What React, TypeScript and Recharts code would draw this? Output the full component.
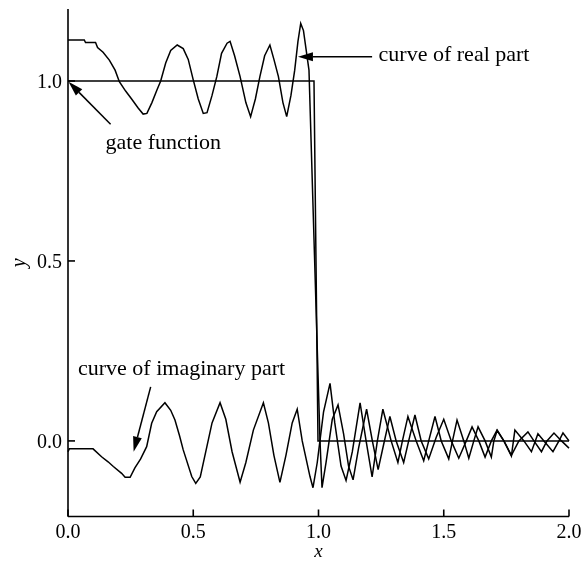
import { LineChart, Line, XAxis, YAxis, ReferenceLine, ReferenceDot } from 'recharts'

// axis ticks
const xTicks = [0, 0.5, 1, 1.5, 2]
const yTicks = [0, 0.5, 1]

// gate function (ideal)
const gateFn: [number, number][] = [
  [0, 1], [0.982, 1], [0.998, 0], [2, 0],
]

// reconstructed real part
const realPart: [number, number][] = [
  [0.0, 1.114], [0.065, 1.114], [0.07, 1.107], [0.11, 1.107], [0.118, 1.093],
  [0.14, 1.08], [0.165, 1.058], [0.188, 1.03], [0.205, 0.998], [0.23, 0.972],
  [0.254, 0.95], [0.28, 0.925], [0.3, 0.908], [0.315, 0.91], [0.335, 0.94],
  [0.355, 0.975], [0.37, 1.0], [0.39, 1.05], [0.41, 1.085], [0.436, 1.1],
  [0.46, 1.09], [0.48, 1.06], [0.5, 1.003], [0.52, 0.95], [0.54, 0.91],
  [0.555, 0.912], [0.575, 0.96], [0.594, 1.012], [0.613, 1.077], [0.635, 1.105],
  [0.647, 1.11], [0.665, 1.07], [0.687, 1.012], [0.71, 0.94], [0.729, 0.901],
  [0.748, 0.95], [0.766, 1.012], [0.785, 1.07], [0.806, 1.1], [0.822, 1.06],
  [0.84, 1.012], [0.858, 0.94], [0.873, 0.901], [0.89, 0.96], [0.905, 1.03],
  [0.918, 1.11], [0.929, 1.16], [0.94, 1.14], [0.962, 1.03], [1.006, 0.0],
  [1.014, -0.13], [1.03, -0.06], [1.055, 0.06], [1.078, 0.1], [1.1, 0.02],
  [1.12, -0.07], [1.138, -0.108], [1.16, -0.02], [1.192, 0.088], [1.215, 0.0],
  [1.238, -0.08], [1.26, -0.01], [1.285, 0.068], [1.31, 0.0], [1.34, -0.06],
  [1.36, 0.0], [1.385, 0.072], [1.41, 0.0], [1.44, -0.05], [1.47, 0.01],
  [1.5, 0.06], [1.53, 0.0], [1.56, -0.048], [1.59, 0.0], [1.613, 0.039],
  [1.64, 0.0], [1.665, -0.045], [1.69, 0.0], [1.713, 0.03], [1.74, 0.0],
  [1.77, -0.04], [1.8, 0.0], [1.836, 0.025], [1.86, 0.0], [1.89, -0.03],
  [1.912, 0.0], [1.94, 0.022], [1.97, 0.0], [2.0, -0.02],
]

// reconstructed imaginary part
const imagPart: [number, number][] = [
  [0.0, -0.03], [0.005, -0.022], [0.1, -0.022], [0.134, -0.044], [0.16, -0.058],
  [0.181, -0.071], [0.214, -0.09], [0.228, -0.101], [0.248, -0.101], [0.267, -0.075],
  [0.29, -0.05], [0.314, -0.016], [0.334, 0.049], [0.354, 0.081], [0.387, 0.106],
  [0.41, 0.085], [0.427, 0.058], [0.445, 0.015], [0.46, -0.025], [0.494, -0.099],
  [0.51, -0.118], [0.528, -0.1], [0.55, -0.03], [0.575, 0.05], [0.607, 0.106],
  [0.63, 0.06], [0.655, -0.03], [0.687, -0.115], [0.71, -0.06], [0.74, 0.03],
  [0.78, 0.106], [0.8, 0.05], [0.822, -0.04], [0.846, -0.115], [0.87, -0.04],
  [0.895, 0.05], [0.915, 0.088], [0.935, 0.0], [0.966, -0.099], [0.978, -0.13],
  [0.995, -0.06], [1.02, 0.08], [1.046, 0.16], [1.065, 0.05], [1.09, -0.07],
  [1.11, -0.11], [1.135, -0.03], [1.166, 0.106], [1.19, 0.0], [1.214, -0.1],
  [1.235, 0.0], [1.257, 0.088], [1.29, 0.0], [1.317, -0.06], [1.335, 0.0],
  [1.357, 0.068], [1.39, 0.0], [1.42, -0.055], [1.44, 0.0], [1.465, 0.068],
  [1.49, 0.0], [1.52, -0.05], [1.535, 0.0], [1.553, 0.058], [1.58, 0.0],
  [1.6, -0.048], [1.62, 0.0], [1.637, 0.039], [1.665, 0.0], [1.69, -0.045],
  [1.7, 0.0], [1.713, 0.029], [1.74, 0.0], [1.77, -0.042], [1.784, 0.03],
  [1.82, 0.0], [1.85, -0.03], [1.876, 0.02], [1.9, 0.0], [1.936, -0.03],
  [1.96, 0.0], [1.976, 0.022], [2.0, 0.0],
]

const toRows = (pts: [number, number][]) => pts.map(([x, y]) => ({ x, y }))

const FONT = '"Liberation Serif", "Times New Roman", serif'

// line with a filled arrow head at (x2, y2)
const Arrow = (props: any) => {
  const { x1, y1, x2, y2 } = props
  const ang = Math.atan2(y2 - y1, x2 - x1)
  const len = 15
  const half = 4.5
  const bx = x2 - len * Math.cos(ang)
  const by = y2 - len * Math.sin(ang)
  const px = -Math.sin(ang) * half
  const py = Math.cos(ang) * half
  return (
    <g>
      <line x1={x1} y1={y1} x2={bx} y2={by} stroke="#000" strokeWidth={1.5} />
      <polygon points={`${x2},${y2} ${bx + px},${by + py} ${bx - px},${by - py}`} fill="#000" />
    </g>
  )
}

const note = (text: string) => (props: any) => (
  <text x={props.cx} y={props.cy} dy="0.35em" fontFamily={FONT} fontSize={22} fill="#000">
    {text}
  </text>
)

export default function App() {
  return (
    <div style={{ position: 'fixed', left: 0, top: 0 }}>
      <LineChart width={584} height={562} margin={{ top: 9, right: 15, bottom: 0, left: 0 }}>
        <XAxis
          type="number"
          dataKey="x"
          domain={[0, 2]}
          ticks={xTicks}
          tickFormatter={(v: number) => v.toFixed(1)}
          height={45.5}
          tickSize={-7}
          tickMargin={14}
          stroke="#000"
          strokeWidth={1.6}
          tick={{ fill: '#000', fontSize: 20, fontFamily: FONT }}
          label={{
            content: ({ viewBox }: any) => (
              <text x={viewBox.x + viewBox.width / 2} y={viewBox.y + 40.5} textAnchor="middle"
                fontFamily={FONT} fontStyle="italic" fontSize={19} fill="#000">x</text>
            ),
          }}
        />
        <YAxis
          type="number"
          dataKey="y"
          domain={[-0.21, 1.2]}
          ticks={yTicks}
          tickFormatter={(v: number) => v.toFixed(1)}
          width={68}
          tickSize={-7}
          tickMargin={13}
          stroke="#000"
          strokeWidth={1.6}
          tick={{ fill: '#000', fontSize: 20, fontFamily: FONT }}
          label={{
            content: ({ viewBox }: any) => {
              const cx = 25
              const cy = viewBox.y + viewBox.height / 2
              return (
                <text x={cx} y={cy} transform={`rotate(-90 ${cx} ${cy})`} textAnchor="middle"
                  fontFamily={FONT} fontStyle="italic" fontSize={20} fill="#000">y</text>
              )
            },
          }}
        />
        <Line data={toRows(gateFn)} dataKey="y" type="linear" stroke="#000" strokeWidth={1.5} dot={false} isAnimationActive={false} />
        <Line data={toRows(realPart)} dataKey="y" type="linear" stroke="#000" strokeWidth={1.5} dot={false} isAnimationActive={false} />
        <Line data={toRows(imagPart)} dataKey="y" type="linear" stroke="#000" strokeWidth={1.5} dot={false} isAnimationActive={false} />

        <ReferenceLine segment={[{ x: 1.214, y: 1.067 }, { x: 0.918, y: 1.067 }]} shape={Arrow} />
        <ReferenceLine segment={[{ x: 0.17, y: 0.88 }, { x: 0.002, y: 0.998 }]} shape={Arrow} />
        <ReferenceLine segment={[{ x: 0.33, y: 0.15 }, { x: 0.262, y: -0.03 }]} shape={Arrow} />

        <ReferenceDot x={1.24} y={1.078} r={0} shape={note('curve of real part')} />
        <ReferenceDot x={0.15} y={0.832} r={0} shape={note('gate function')} />
        <ReferenceDot x={0.04} y={0.205} r={0} shape={note('curve of imaginary part')} />
      </LineChart>
    </div>
  )
}
